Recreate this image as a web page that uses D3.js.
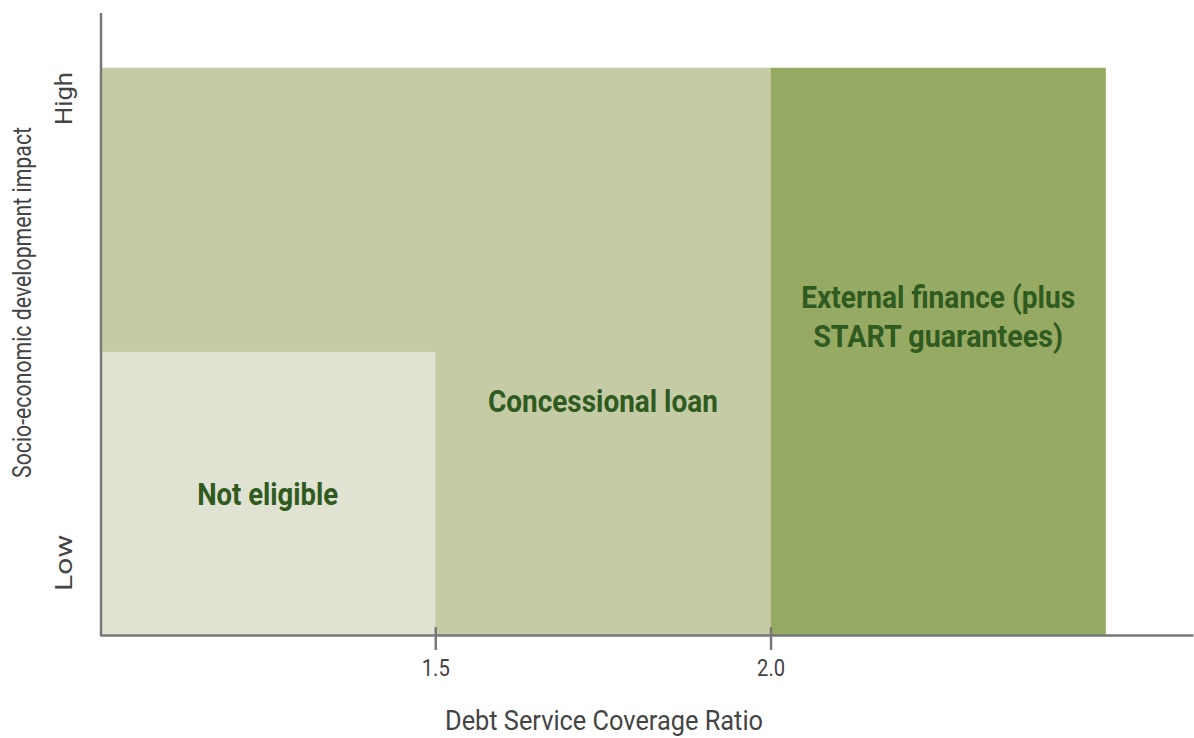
<!DOCTYPE html>
<html><head><meta charset="utf-8">
<script src="https://cdn.jsdelivr.net/npm/d3@7"></script>
<style>
body{margin:0;background:#fff;}
text{font-family:"Roboto","Liberation Sans",sans-serif;}
</style></head>
<body><svg id="c" width="1194" height="738"></svg>
<script>
const regions = ["Not eligible","Concessional loan","External finance (plus START guarantees)"];
const regionX0 = [1.0, 1.0, 2.0];
const regionX1 = [1.5, 2.0, 2.5];
const regionY1 = [0.455, 0.912, 0.912];
const regionColors = ["#e1e3d2","#c5cca5","#97aa63"];
const labelLines = [["Not eligible"],["Concessional loan"],["External finance (plus","START guarantees)"]];
const labelX = [1.25, 1.75, 2.25];
const labelY = [0.209, 0.3585, 0.5257];
const xTicks = [1.5, 2.0];
const yTickLabels = ["Low","High"];
const yTickPos = [0.1158, 0.8625];

// style constants (condensed-font emulation widths)
const labelWidths = [[141],[230],[274,250]];
const xTickWidth = 28;
const yTickWidths = [56, 53];

const svg = d3.select("#c");
const x = d3.scaleLinear().domain([1.0, 2.63]).range([100, 1193]);
const y = d3.scaleLinear().domain([0, 1]).range([635, 13]);

function ctext(parent, px, py, str, size, weight, width, fill, rot) {
  const g = parent.append("g").attr("transform", `translate(${px},${py})` + (rot ? ` rotate(${rot})` : ""));
  const t = g.append("text").attr("x", 0).attr("y", 0)
    .attr("text-anchor", "middle")
    .attr("font-size", size).attr("font-weight", weight).attr("fill", fill)
    .text(str);
  if (width) t.attr("textLength", width).attr("lengthAdjust", "spacingAndGlyphs");
  return t;
}

// rectangles
const order = [1, 0, 2];
svg.selectAll("rect.r").data(order).enter().append("rect")
  .attr("x", i => x(regionX0[i]))
  .attr("y", i => y(regionY1[i]))
  .attr("width", i => x(regionX1[i]) - x(regionX0[i]))
  .attr("height", i => y(0) - y(regionY1[i]))
  .attr("fill", i => regionColors[i]);

// region labels
regions.forEach((r, i) => {
  labelLines[i].forEach((ln, k) => {
    ctext(svg, x(labelX[i]), y(labelY[i]) + k * 39, ln, 31, "bold", labelWidths[i][k], "#2f5a20");
  });
});

// x axis
const xAxis = d3.axisBottom(x).tickValues(xTicks).tickFormat(d3.format(".1f")).tickSizeInner(15).tickSizeOuter(0);
const gx = svg.append("g").attr("transform", `translate(0,${y(0)})`).call(xAxis);
gx.select(".domain").attr("stroke", "#777").attr("stroke-width", 2.5);
gx.selectAll(".tick line").attr("stroke", "#777").attr("stroke-width", 2.5).attr("y1", -8);
gx.selectAll(".tick text").remove();
gx.selectAll(".tick").each(function(d) {
  ctext(d3.select(this), 0, 41, d3.format(".1f")(d), 23, "normal", xTickWidth, "#444");
});

// y axis line
svg.append("line").attr("x1", x(1.0)+1).attr("x2", x(1.0)+1).attr("y1", y(1)).attr("y2", y(0)+1)
  .attr("stroke", "#777").attr("stroke-width", 2.5);

// y tick labels rotated
yTickLabels.forEach((l, i) => {
  ctext(svg, 72, y(yTickPos[i]), l, 24, "normal", yTickWidths[i], "#444", -90);
});

// axis titles
ctext(svg, 604, 730, "Debt Service Coverage Ratio", 28, "normal", 318, "#444");
ctext(svg, 31, 302.5, "Socio-economic development impact", 25, "normal", 351, "#444", -90);
</script></body></html>
